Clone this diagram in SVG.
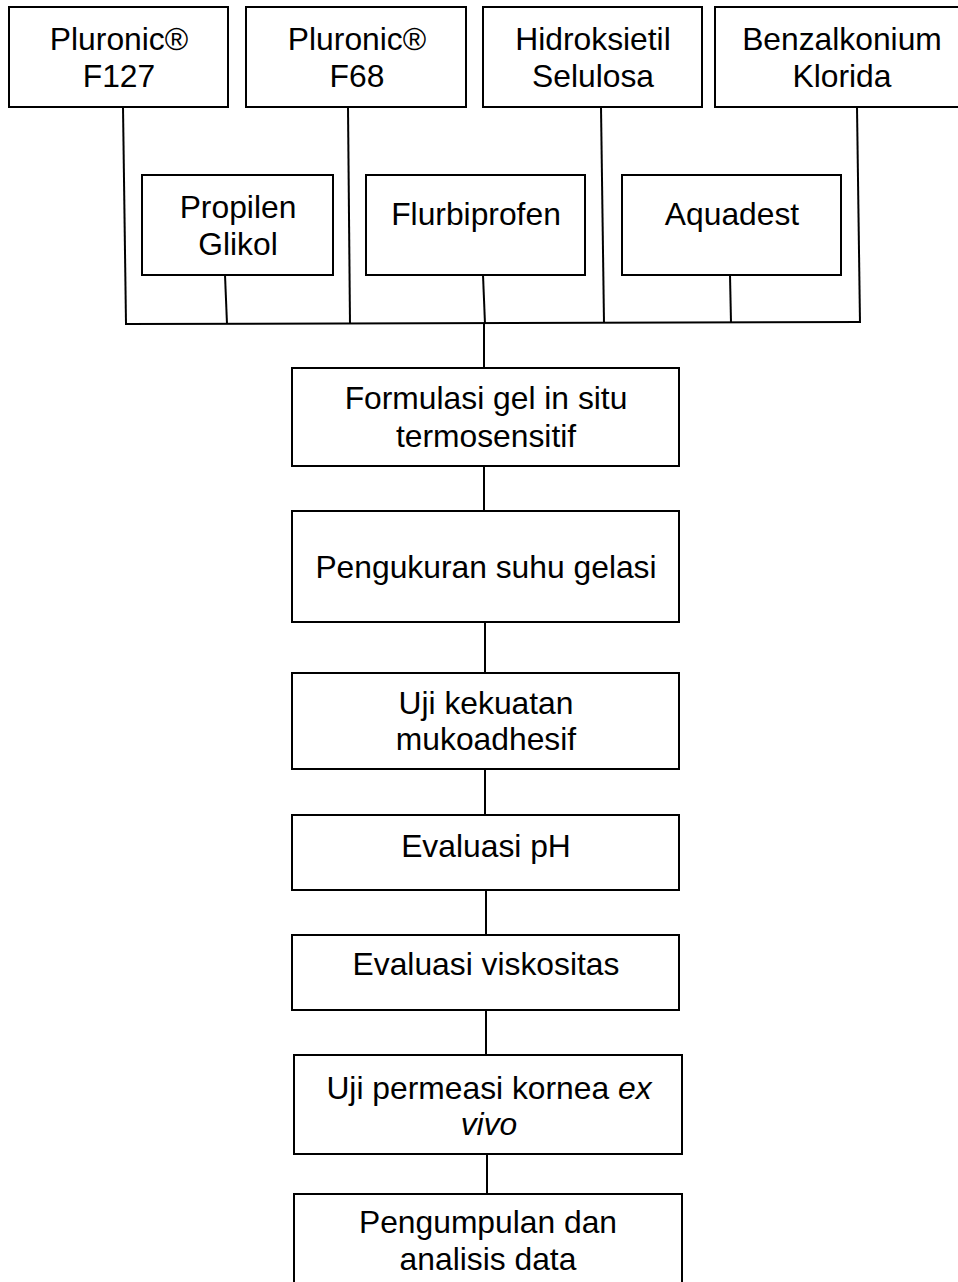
<svg xmlns="http://www.w3.org/2000/svg" width="958" height="1282" viewBox="0 0 958 1282">
<style>
.box{fill:#fff;stroke:#000;stroke-width:2}
.t{font-family:"Liberation Sans",Arial,sans-serif;font-size:31.8px;fill:#000;text-anchor:middle}
.c{stroke:#000;stroke-width:2;fill:none}
</style>
<rect width="958" height="1282" fill="#fff"/>
<g id="connectors">
<line class="c" x1="123" y1="107" x2="126" y2="324"/>
<line class="c" x1="225" y1="275" x2="227" y2="324"/>
<line class="c" x1="348" y1="107" x2="350" y2="324"/>
<line class="c" x1="483" y1="275" x2="485" y2="324"/>
<line class="c" x1="601" y1="107" x2="604" y2="323"/>
<line class="c" x1="730" y1="275" x2="731" y2="323"/>
<line class="c" x1="857" y1="107" x2="860" y2="323"/>
<line class="c" x1="125" y1="324" x2="860" y2="322"/>
<line class="c" x1="484" y1="323" x2="484" y2="368"/>
<line class="c" x1="484" y1="466" x2="484" y2="511"/>
<line class="c" x1="485" y1="622" x2="485" y2="673"/>
<line class="c" x1="485" y1="769" x2="485" y2="815"/>
<line class="c" x1="486" y1="890" x2="486" y2="935"/>
<line class="c" x1="486" y1="1010" x2="486" y2="1055"/>
<line class="c" x1="487" y1="1154" x2="487" y2="1194"/>
</g>
<g id="n-f127"><rect class="box" x="9" y="7" width="219" height="100"/><text class="t" x="119" y="50">Pluronic®</text><text class="t" x="119" y="87">F127</text></g>
<g id="n-f68"><rect class="box" x="246" y="7" width="220" height="100"/><text class="t" x="357" y="50">Pluronic®</text><text class="t" x="357" y="87">F68</text></g>
<g id="n-hec"><rect class="box" x="483" y="7" width="219" height="100"/><text class="t" x="593" y="50">Hidroksietil</text><text class="t" x="593" y="87">Selulosa</text></g>
<g id="n-bak"><rect class="box" x="715" y="7" width="255" height="100"/><text class="t" x="842" y="50">Benzalkonium</text><text class="t" x="842" y="87">Klorida</text></g>
<g id="n-pg"><rect class="box" x="142" y="175" width="191" height="100"/><text class="t" x="238" y="218">Propilen</text><text class="t" x="238" y="255">Glikol</text></g>
<g id="n-flu"><rect class="box" x="366" y="175" width="219" height="100"/><text class="t" x="476" y="225">Flurbiprofen</text></g>
<g id="n-aq"><rect class="box" x="622" y="175" width="219" height="100"/><text class="t" x="732" y="225">Aquadest</text></g>
<g id="n-form"><rect class="box" x="292" y="368" width="387" height="98"/><text class="t" x="486" y="409">Formulasi gel in situ</text><text class="t" x="486" y="447">termosensitif</text></g>
<g id="n-suhu"><rect class="box" x="292" y="511" width="387" height="111"/><text class="t" x="486" y="578">Pengukuran suhu gelasi</text></g>
<g id="n-muko"><rect class="box" x="292" y="673" width="387" height="96"/><text class="t" x="486" y="714">Uji kekuatan</text><text class="t" x="486" y="750">mukoadhesif</text></g>
<g id="n-ph"><rect class="box" x="292" y="815" width="387" height="75"/><text class="t" x="486" y="857">Evaluasi pH</text></g>
<g id="n-visk"><rect class="box" x="292" y="935" width="387" height="75"/><text class="t" x="486" y="975">Evaluasi viskositas</text></g>
<g id="n-perm"><rect class="box" x="294" y="1055" width="388" height="99"/><text class="t" x="489" y="1099">Uji permeasi kornea <tspan font-style="italic">ex</tspan></text><text class="t" x="489" y="1135" font-style="italic">vivo</text></g>
<g id="n-data"><rect class="box" x="294" y="1194" width="388" height="100"/><text class="t" x="488" y="1233">Pengumpulan dan</text><text class="t" x="488" y="1270">analisis data</text></g>
</svg>
